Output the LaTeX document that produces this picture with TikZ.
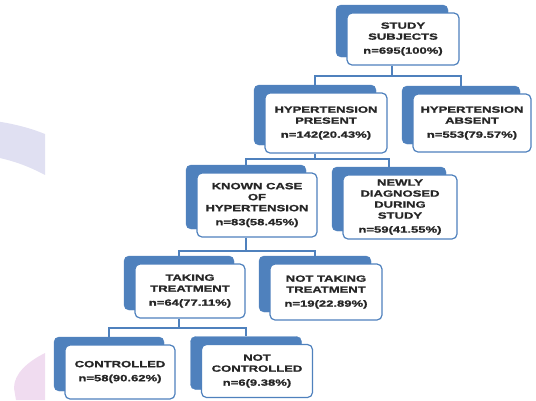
\documentclass[tikz,border=0pt]{standalone}
\usepackage{fontspec}
\newfontfamily\bfont[FakeStretch=1.45,FakeBold=1.2]{Liberation Sans}
\usetikzlibrary{calc}
\definecolor{obl}{HTML}{4F81BD}
\definecolor{txt}{HTML}{262626}
\definecolor{lav}{HTML}{E0E0F2}
\definecolor{pnk}{HTML}{F0DCF0}
\tikzset{
  frontbox/.style={draw=obl, line width=1.2pt, fill=white, rounded corners=5pt,
    inner sep=0pt, align=center, text=txt,
    font=\bfont\bfseries\fontsize{9}{11}\selectfont},
  backbox/.style={fill=obl, draw=obl, rounded corners=5pt, inner sep=0pt},
  conn/.style={draw=obl, line width=1.1pt}
}
\newcommand{\tbox}[6]{%
  \node[backbox, minimum width=#4pt, minimum height=#5pt] (#1-b) at (#2-11,#3-8) {};
  \node[frontbox, minimum width=#4pt, minimum height=#5pt] (#1) at (#2,#3) {#6};
}
\begin{document}
\begin{tikzpicture}[x=1pt,y=-1pt]
\useasboundingbox (0,0) rectangle (536,400);
% faint watermark
\fill[lav] (-5,121) .. controls (15,124) and (30,128) .. (45,134) -- (45,175) .. controls (30,167) and (15,161) .. (-5,157) -- cycle;
\fill[pnk] (45,353) .. controls (27,362) and (14,374) .. (14,388) -- (16,400) -- (45,400) -- cycle;

\tbox{study}{403}{39}{112}{52}{STUDY\\SUBJECTS\\[3pt]n=695(100\%)}
\tbox{present}{326}{123}{122}{60}{HYPERTENSION\\PRESENT\\[3pt]n=142(20.43\%)}
\tbox{absent}{472}{123}{118}{58}{HYPERTENSION\\ABSENT\\[3pt]n=553(79.57\%)}
\tbox{known}{257}{205}{120}{64}{KNOWN CASE\\OF\\HYPERTENSION\\[3pt]n=83(58.45\%)}
\tbox{newly}{400}{207}{114}{64}{NEWLY\\DIAGNOSED\\DURING\\STUDY\\[3pt]n=59(41.55\%)}
\tbox{taking}{190}{291}{110}{54}{TAKING\\TREATMENT\\[3pt]n=64(77.11\%)}
\tbox{nottaking}{326}{292}{112}{56}{NOT TAKING\\TREATMENT\\[3pt]n=19(22.89\%)}
\tbox{controlled}{120}{372}{110}{54}{CONTROLLED\\[3pt]n=58(90.62\%)}
\tbox{notcontrolled}{257}{371}{111}{53}{NOT\\CONTROLLED\\[3pt]n=6(9.38\%)}

\coordinate (bar1) at (0,76);
\coordinate (bar2) at (0,159);
\coordinate (bar3) at (0,251);
\coordinate (bar4) at (0,328);

\draw[conn] (study-b.center |- study.south) -- (study-b.center |- bar1) -| (present-b.north);
\draw[conn] (study-b.center |- bar1) -| (absent-b.north);
\draw[conn] (present-b.center |- present.south) -- (present-b.center |- bar2) -| (known-b.north);
\draw[conn] (present-b.center |- bar2) -| (newly-b.north);
\draw[conn] (known-b.center |- known.south) -- (known-b.center |- bar3) -| (taking-b.north);
\draw[conn] (known-b.center |- bar3) -| (nottaking-b.north);
\draw[conn] (taking-b.center |- taking.south) -- (taking-b.center |- bar4) -| (controlled-b.north);
\draw[conn] (taking-b.center |- bar4) -| (notcontrolled-b.north);
\end{tikzpicture}
\end{document}
